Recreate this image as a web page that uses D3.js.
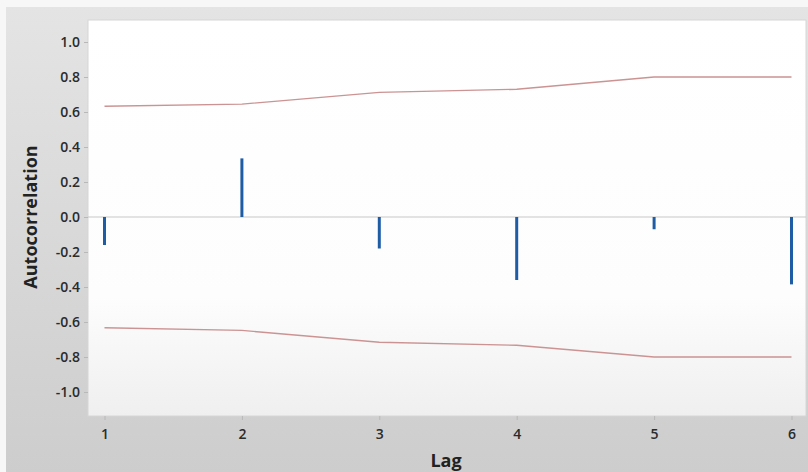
<!DOCTYPE html>
<html>
<head>
<meta charset="utf-8">
<script src="https://cdn.jsdelivr.net/npm/d3@7"></script>
<style>
  html, body { margin: 0; padding: 0; background: #fafafa; }
  svg { display: block; }
  text { font-family: "Open Sans", "Noto Sans", sans-serif; }
</style>
</head>
<body>
<svg id="chart" width="808" height="472"></svg>
<script>
// Autocorrelation function with 5% significance limits
const lags = [1, 2, 3, 4, 5, 6];
const acf = [-0.16, 0.335, -0.18, -0.36, -0.07, -0.385];
const upperLimit = [0.633, 0.645, 0.712, 0.73, 0.80, 0.80];
const lowerLimit = [-0.633, -0.648, -0.716, -0.733, -0.80, -0.80];
const yTicks = [1.0, 0.8, 0.6, 0.4, 0.2, 0.0, -0.2, -0.4, -0.6, -0.8, -1.0];

const svg = d3.select("#chart");
const W = 808, H = 472;
const plot = { left: 88, top: 20, right: 806, bottom: 416 };

// background gradients for the outer panel and the plot area
const defs = svg.append("defs");
const bg = defs.append("linearGradient").attr("id", "bg").attr("x1", 0).attr("y1", 0).attr("x2", 0).attr("y2", 1);
bg.append("stop").attr("offset", "0%").attr("stop-color", "#e4e4e4");
bg.append("stop").attr("offset", "100%").attr("stop-color", "#cdcdcd");
const pg = defs.append("linearGradient").attr("id", "pg").attr("x1", 0).attr("y1", 0).attr("x2", 0).attr("y2", 1);
pg.append("stop").attr("offset", "0%").attr("stop-color", "#ffffff");
pg.append("stop").attr("offset", "70%").attr("stop-color", "#fdfdfd");
pg.append("stop").attr("offset", "100%").attr("stop-color", "#efefef");

svg.append("rect").attr("x", 0).attr("y", 0).attr("width", W).attr("height", H).attr("fill", "#f7f7f7");
svg.append("rect").attr("x", 6).attr("y", 7).attr("width", W - 6).attr("height", H - 7).attr("fill", "url(#bg)");
svg.append("rect")
  .attr("x", plot.left).attr("y", plot.top)
  .attr("width", plot.right - plot.left).attr("height", plot.bottom - plot.top)
  .attr("fill", "url(#pg)").attr("stroke", "#d6d6d6").attr("stroke-width", 1);

const x = d3.scaleLinear().domain([1, 6]).range([104.5, 791.5]);
const y = d3.scaleLinear().domain([-1, 1]).range([392, 42]);

// y axis
const yAxis = d3.axisLeft(y).tickValues(yTicks).tickFormat(d3.format(".1f")).tickSize(4).tickPadding(4);
const gy = svg.append("g").attr("transform", `translate(${plot.left},0)`).call(yAxis);
gy.select(".domain").remove();
gy.selectAll(".tick line").attr("stroke", "#b8b8b8");
gy.selectAll(".tick text")
  .attr("fill", "#2b2b2b").attr("font-size", 14).attr("font-weight", 600)
  .text(d => d3.format(".1f")(d).replace("−", "-"));

// x axis
const xAxis = d3.axisBottom(x).tickValues(lags).tickFormat(d3.format("d")).tickSize(4).tickPadding(9);
const gx = svg.append("g").attr("transform", `translate(0,${plot.bottom})`).call(xAxis);
gx.select(".domain").remove();
gx.selectAll(".tick line").attr("stroke", "#b8b8b8");
gx.selectAll(".tick text").attr("fill", "#2b2b2b").attr("font-size", 14).attr("font-weight", 600);

// zero reference line
svg.append("line")
  .attr("x1", plot.left).attr("x2", plot.right)
  .attr("y1", y(0)).attr("y2", y(0))
  .attr("stroke", "#c8c8c8").attr("stroke-width", 1.2);

// significance limits
const line = d3.line().x((d, i) => x(lags[i])).y(d => y(d));
[upperLimit, lowerLimit].forEach(lim => {
  svg.append("path").datum(lim)
    .attr("d", line)
    .attr("fill", "none")
    .attr("stroke", "#cc9393")
    .attr("stroke-width", 1.4);
});

// autocorrelation spikes
svg.append("g").selectAll("line").data(acf).join("line")
  .attr("x1", (d, i) => x(lags[i])).attr("x2", (d, i) => x(lags[i]))
  .attr("y1", y(0)).attr("y2", d => y(d))
  .attr("stroke", "#1f5ca6").attr("stroke-width", 3);

// axis titles
svg.append("text")
  .attr("x", 446).attr("y", 467)
  .attr("text-anchor", "middle")
  .attr("font-size", 18).attr("font-weight", 700).attr("fill", "#222")
  .text("Lag");
svg.append("text")
  .attr("transform", `translate(37,${y(0)}) rotate(-90)`)
  .attr("text-anchor", "middle")
  .attr("font-size", 18).attr("font-weight", 700).attr("fill", "#222")
  .text("Autocorrelation");
</script>
</body>
</html>
